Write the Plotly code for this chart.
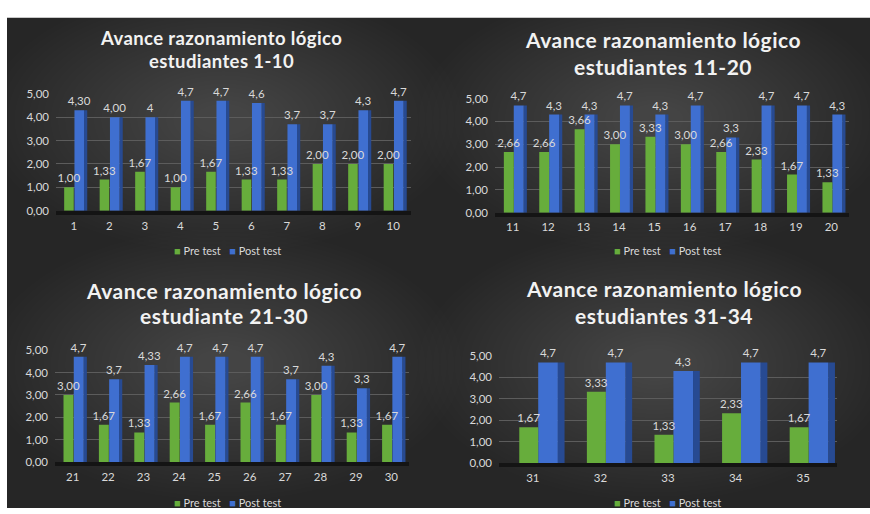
import plotly.graph_objects as go

W, H = 870, 514

# --- data: label strings as printed on the bars (comma decimals) ---
students_a = [1, 2, 3, 4, 5, 6, 7, 8, 9, 10]
pre_a = ["1,00", "1,33", "1,67", "1,00", "1,67", "1,33", "1,33", "2,00", "2,00", "2,00"]
post_a = ["4,30", "4,00", "4", "4,7", "4,7", "4,6", "3,7", "3,7", "4,3", "4,7"]

students_b = [11, 12, 13, 14, 15, 16, 17, 18, 19, 20]
pre_b = ["2,66", "2,66", "3,66", "3,00", "3,33", "3,00", "2,66", "2,33", "1,67", "1,33"]
post_b = ["4,7", "4,3", "4,3", "4,7", "4,3", "4,7", "3,3", "4,7", "4,7", "4,3"]

students_c = [21, 22, 23, 24, 25, 26, 27, 28, 29, 30]
pre_c = ["3,00", "1,67", "1,33", "2,66", "1,67", "2,66", "1,67", "3,00", "1,33", "1,67"]
post_c = ["4,7", "3,7", "4,33", "4,7", "4,7", "4,7", "3,7", "4,3", "3,3", "4,7"]

students_d = [31, 32, 33, 34, 35]
pre_d = ["1,67", "3,33", "1,33", "2,33", "1,67"]
post_d = ["4,7", "4,7", "4,3", "4,7", "4,7"]

titles = [
    ("Avance razonamiento lógico", "estudiantes 1-10"),
    ("Avance razonamiento lógico", "estudiantes 11-20"),
    ("Avance razonamiento lógico", "estudiante 21-30"),
    ("Avance razonamiento lógico", "estudiantes 31-34"),
]
series_names = ["Pre test", "Post test"]


def num(labels):
    return [float(s.replace(",", ".")) for s in labels]


GREEN = "#67ad3c"
BLUE = "#3f6fd0"
BLUE_SIDE = "#274a92"
TXT = "#d9d9d9"
FONT = "Lato"

# panel geometry in pixels: plot-area box, title, legend, background box
panels = [
    dict(ids=students_a, pre=pre_a, post=post_a, px=(56, 411), py=(89, 209),
         tx=221, ty=(32, 55), tsize=18.5, ls=0.4, lg=(227, 250), box=(7, 440, 11, 260),
         off=(-0.27, 0.02, 0.29), w=(0.27, 0.27, 0.09)),
    dict(ids=students_b, pre=pre_b, post=post_b, px=(495, 849), py=(94, 211),
         tx=663, ty=(33, 61), tsize=21, ls=0.5, lg=(667, 250), box=(440, 870, 11, 260),
         off=(-0.25, 0.03, 0.31), w=(0.28, 0.28, 0.09)),
    dict(ids=students_c, pre=pre_c, post=post_c, px=(55, 409), py=(352, 467),
         tx=224, ty=(291, 317), tsize=21, ls=0.5, lg=(227, 508), box=(7, 440, 260, 514),
         off=(-0.26, 0.03, 0.31), w=(0.28, 0.28, 0.09)),
    dict(ids=students_d, pre=pre_d, post=post_d, px=(499, 837), py=(358, 468),
         tx=664, ty=(289, 316), tsize=21, ls=0.5, lg=(667, 508), box=(440, 870, 260, 514),
         off=(-0.20, 0.08, 0.37), w=(0.28, 0.29, 0.10)),
]

fig = go.Figure()
shapes = []
annotations = []
layout = {}

# dark chart area with a soft radial glow per panel
shapes.append(dict(type="rect", xref="paper", yref="paper",
                   x0=7 / W, x1=1, y0=0, y1=1 - 11 / H,
                   fillcolor="#262626", line=dict(width=0), layer="below"))
N_GLOW = 30
for p in panels:
    bx0, bx1, by0, by1 = p["box"]
    cx, cy = (bx0 + bx1) / 2, (by0 + by1) / 2 - 20
    rw, rh = (bx1 - bx0) / 2, (by1 - by0) / 2
    for k in range(N_GLOW):
        f = 1.1 - k * (1.0 / N_GLOW)
        shapes.append(dict(type="circle", xref="paper", yref="paper",
                           x0=(cx - rw * f) / W, x1=(cx + rw * f) / W,
                           y0=1 - (cy + rh * f) / H, y1=1 - (cy - rh * f) / H,
                           fillcolor="rgba(255,255,255,0.0065)",
                           line=dict(width=0), layer="below"))

for i, p in enumerate(panels, start=1):
    sfx = "" if i == 1 else str(i)
    xa, ya = f"x{sfx}", f"y{sfx}"
    pre_v, post_v = num(p["pre"]), num(p["post"])
    o_pre, o_post, o_side = p["off"]
    w_pre, w_post, w_side = p["w"]

    # right-hand face of the Post test columns
    fig.add_trace(go.Bar(x=p["ids"], y=post_v, xaxis=xa, yaxis=ya,
                         offset=o_side, width=w_side,
                         marker=dict(color=BLUE_SIDE, line=dict(width=0)),
                         showlegend=False, hoverinfo="skip"))
    fig.add_trace(go.Bar(x=p["ids"], y=post_v, name=series_names[1], xaxis=xa, yaxis=ya,
                         offset=o_post, width=w_post, showlegend=False,
                         marker=dict(color=BLUE, line=dict(width=0)),
                         text=p["post"], textposition="outside", cliponaxis=False,
                         constraintext="none",
                         textfont=dict(family=FONT, size=11.5, color=TXT)))
    # Pre test drawn last so its value labels stay on top of the blue columns
    fig.add_trace(go.Bar(x=p["ids"], y=pre_v, name=series_names[0], xaxis=xa, yaxis=ya,
                         offset=o_pre, width=w_pre, showlegend=False,
                         marker=dict(color=GREEN, line=dict(width=0)),
                         text=p["pre"], textposition="outside", cliponaxis=False,
                         constraintext="none",
                         textfont=dict(family=FONT, size=11.5, color=TXT)))

    x0, x1 = p["px"]
    ytop, ybot = p["py"]
    layout[f"xaxis{sfx}"] = dict(
        domain=[x0 / W, x1 / W], anchor=ya,
        range=[p["ids"][0] - 0.5, p["ids"][-1] + 0.5],
        tickvals=p["ids"], ticktext=[str(s) for s in p["ids"]],
        showgrid=False, zeroline=False, showline=True,
        linecolor="#141414", linewidth=4, ticks="",
        ticklabelstandoff=1,
        tickfont=dict(family=FONT, size=11.5, color=TXT), fixedrange=True)
    layout[f"yaxis{sfx}"] = dict(
        domain=[1 - ybot / H, 1 - ytop / H], anchor=xa,
        range=[0, 5], dtick=1, tickformat=".2f",
        showgrid=True, gridcolor="#5c5c5c", gridwidth=1,
        zeroline=False, showline=False, ticks="",
        ticklabelstandoff=6,
        tickfont=dict(family=FONT, size=11.5, color=TXT), fixedrange=True)

    # legend: coloured key squares followed by the series names
    annotations.append(dict(
        text=(f"<span style='color:{GREEN}'>■</span> {series_names[0]}   "
              f"<span style='color:{BLUE}'>■</span> {series_names[1]}"),
        x=p["lg"][0] / W, y=1 - p["lg"][1] / H,
        xref="paper", yref="paper", xanchor="center", yanchor="middle",
        showarrow=False, font=dict(family=FONT, size=11, color=TXT)))

    for line, yy in zip(titles[i - 1], p["ty"]):
        annotations.append(dict(
            text=f"<b><span style='letter-spacing:{p['ls']}px'>{line}</span></b>",
            x=p["tx"] / W, y=1 - yy / H,
            xref="paper", yref="paper", xanchor="center", yanchor="middle",
            showarrow=False,
            font=dict(family=FONT, size=p["tsize"], color="#f2f2f2")))

fig.update_layout(
    width=W, height=H, margin=dict(l=0, r=0, t=0, b=0),
    paper_bgcolor="white", plot_bgcolor="rgba(0,0,0,0)",
    barmode="overlay", separators=",.", showlegend=False,
    shapes=shapes, annotations=annotations,
    font=dict(family=FONT, color=TXT),
    **layout)

fig.write_html("out.html")
